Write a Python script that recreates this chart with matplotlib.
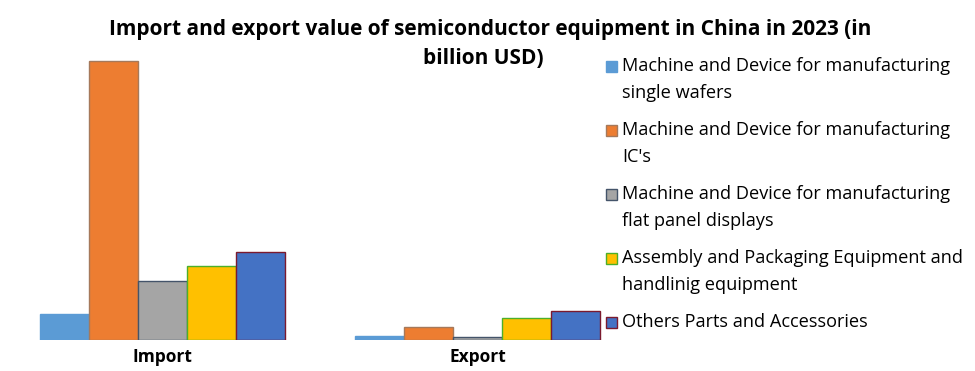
import matplotlib
matplotlib.use("Agg")
import numpy as np
import matplotlib.pyplot as plt
from matplotlib.patches import Rectangle

plt.rcParams['font.family'] = ['Open Sans', 'DejaVu Sans']

# ------------------------------------
# Data (billion USD)
# ------------------------------------
groups = ["Import", "Export"]
series = [
    "Machine and Device for manufacturing\nsingle wafers",
    "Machine and Device for manufacturing\nIC's",
    "Machine and Device for manufacturing\nflat panel displays",
    "Assembly and Packaging Equipment and\nhandlinig equipment",
    "Others Parts and Accessories",
]
import_vals = [2.6, 27.9, 5.9, 7.4, 8.8]
export_vals = [0.4, 1.3, 0.3, 2.2, 2.9]

colors = ["#5B9BD5", "#ED7D31", "#A5A5A5", "#FFC000", "#4472C4"]
edges = ["#5B9BD5", "#A5795B", "#44546A", "#4CAF2A", "#7B1A2E"]

# ------------------------------------
# Plot
# ------------------------------------
fig = plt.figure(figsize=(9.75, 3.71), dpi=100)
ax = fig.add_axes([5 / 975, 1 - 340 / 371, 630 / 975, 290 / 371])

x = np.arange(len(groups))
n = len(series)
width = 0.775 / n

for i in range(n):
    vals = [import_vals[i], export_vals[i]]
    ax.bar(x - 0.775 / 2 + width * (i + 0.5), vals, width,
           color=colors[i], edgecolor=edges[i], linewidth=1.0)

ax.set_xlim(-0.5, 1.5)
ax.set_ylim(0, 29.0)
ax.set_xticks(x)
ax.set_xticklabels(groups, fontsize=12.5, fontweight="bold")
ax.tick_params(axis="x", length=0, pad=6)
ax.set_yticks([])
for s in ax.spines.values():
    s.set_visible(False)

fig.text(490 / 975, 1 - 30 / 371,
         "Import and export value of semiconductor equipment in China in 2023 (in",
         ha="center", va="center", fontsize=15, fontweight="bold")
fig.text(483 / 975, 1 - 58 / 371, "billion USD)",
         ha="center", va="center", fontsize=15, fontweight="bold")

# ------------------------------------
# Legend (drawn by hand, marker next to first line)
# ------------------------------------
for i, label in enumerate(series):
    yc = 66 + 64 * i
    fig.patches.append(Rectangle((606 / 975, 1 - (yc + 5.5) / 371), 11 / 975, 11 / 371,
                                 transform=fig.transFigure, facecolor=colors[i],
                                 edgecolor=edges[i], linewidth=1.0))
    fig.text(622 / 975, 1 - (yc - 9) / 371, label, ha="left", va="top",
             fontsize=13.1, linespacing=1.62)

plt.savefig("out.png", dpi=100)
